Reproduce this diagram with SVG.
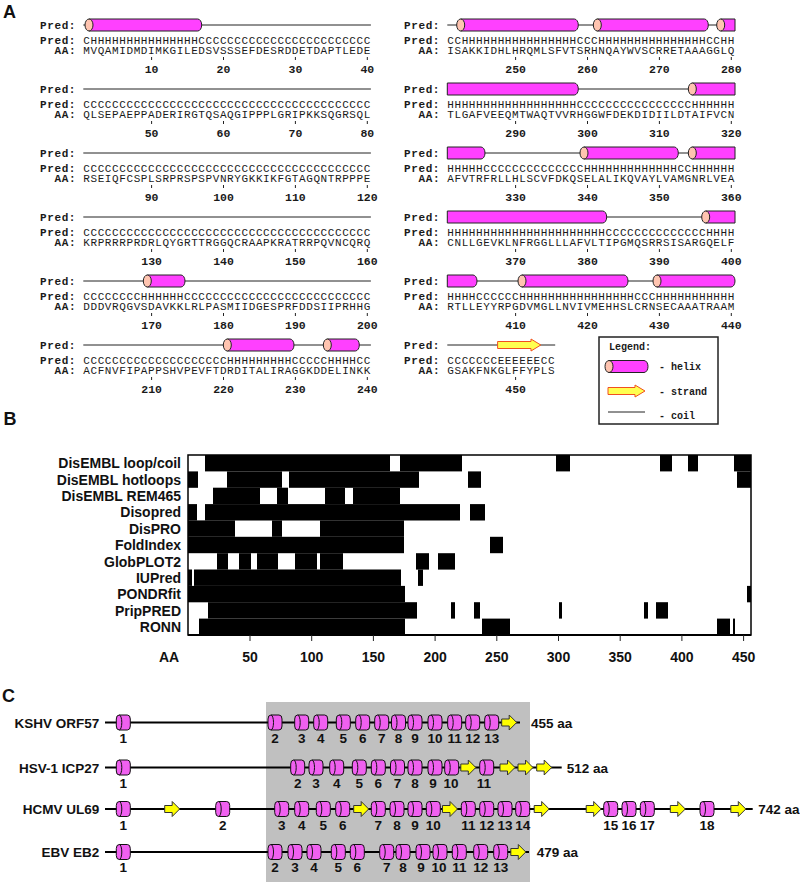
<svg xmlns="http://www.w3.org/2000/svg" width="800" height="883" viewBox="0 0 800 883">
<style>
.m{font-family:"Liberation Mono","DejaVu Sans Mono",monospace;font-size:11px;letter-spacing:0.59px;fill:#1a1a1a}
.b{font-weight:bold}
.n{font-family:"Liberation Mono","DejaVu Sans Mono",monospace;font-size:11.5px;font-weight:bold;fill:#1a1a1a;text-anchor:middle}
.lg{font-family:"Liberation Mono","DejaVu Sans Mono",monospace;font-size:10px;font-weight:bold;fill:#1a1a1a}
.coil{stroke:#222;stroke-width:1;fill:none}
.hb{fill:#ff40ff;stroke:#222;stroke-width:1}
.hc{fill:#ffc4b0;stroke:#222;stroke-width:1}
.st{fill:#ffff50;stroke:#f05020;stroke-width:1}
.tick{stroke:#222;stroke-width:1;fill:none}
.s{font-family:"Liberation Sans",Arial,sans-serif;font-weight:bold;fill:#111}
.pl{font-size:18px}
.bl{font-size:14px;text-anchor:end}
.ax{font-size:14px;text-anchor:middle}
.cl{font-size:13.5px;text-anchor:end}
.cn{font-size:13.5px;text-anchor:middle}
.ca{font-size:13.5px}
.bar{fill:#000}
.ln{stroke:#000;stroke-width:2;fill:none}
.cy{fill:#f060f0;stroke:#111;stroke-width:1}
.ar{fill:#ffff00;stroke:#333;stroke-width:1}
</style>
<defs>
<g id="cyl"><rect x="-7" y="-7.5" width="14" height="15" rx="3" ry="4" class="cy"/><path d="M-4,-7.5 A2.5,7.5 0 0 1 -4,7.5" fill="none" stroke="#111" stroke-width="1"/></g>
<path id="arw" d="M-7.5,-3.5 H0 V-7.5 L7.5,0 L0,7.5 V3.5 H-7.5 Z" class="ar"/>
</defs>

<g id="panelA">
<text x="3" y="18" class="s pl">A</text>
<g id="coils">
<path class="coil" d="M83.3,25H370.9 M83.3,89H370.9 M83.3,153H370.9 M83.3,217H370.9 M83.3,281H370.9 M83.3,345H370.9 M447.3,25H734.9 M447.3,89H734.9 M447.3,153H734.9 M447.3,217H734.9 M447.3,281H734.9 M447.3,345H555.2"/>
<path class="tick" d="M151.6,57v3M223.5,57v3M295.4,57v3M367.3,57v3 M151.6,121v3M223.5,121v3M295.4,121v3M367.3,121v3 M151.6,185v3M223.5,185v3M295.4,185v3M367.3,185v3 M151.6,249v3M223.5,249v3M295.4,249v3M367.3,249v3 M151.6,313v3M223.5,313v3M295.4,313v3M367.3,313v3 M151.6,377v3M223.5,377v3M295.4,377v3M367.3,377v3 M515.6,57v3M587.5,57v3M659.4,57v3M731.3,57v3 M515.6,121v3M587.5,121v3M659.4,121v3M731.3,121v3 M515.6,185v3M587.5,185v3M659.4,185v3M731.3,185v3 M515.6,249v3M587.5,249v3M659.4,249v3M731.3,249v3 M515.6,313v3M587.5,313v3M659.4,313v3M731.3,313v3 M515.6,377v3"/>
</g>
<g id="helices">
<path class="hb" d="M89,19H197.7A4,6 0 0 1 197.7,31H89Z"/><ellipse class="hc" cx="89" cy="25" rx="4" ry="6"/>
<path class="hb" d="M147.3,275H181A4,6 0 0 1 181,287H147.3Z"/><ellipse class="hc" cx="147.3" cy="281" rx="4" ry="6"/>
<path class="hb" d="M227.3,339H290A4,6 0 0 1 290,351H227.3Z"/><ellipse class="hc" cx="227.3" cy="345" rx="4" ry="6"/>
<path class="hb" d="M327.3,339H355.3A4,6 0 0 1 355.3,351H327.3Z"/><ellipse class="hc" cx="327.3" cy="345" rx="4" ry="6"/>
<path class="hb" d="M460.7,19H574.3A4,6 0 0 1 574.3,31H460.7Z"/><ellipse class="hc" cx="460.7" cy="25" rx="4" ry="6"/>
<path class="hb" d="M597.3,19H704.3A4,6 0 0 1 704.3,31H597.3Z"/><ellipse class="hc" cx="597.3" cy="25" rx="4" ry="6"/>
<path class="hb" d="M720.7,19H735V31H720.7Z"/><ellipse class="hc" cx="720.7" cy="25" rx="4" ry="6"/>
<path class="hb" d="M447.3,83H574.3A4,6 0 0 1 574.3,95H447.3Z"/>
<path class="hb" d="M692.3,83H735V95H692.3Z"/><ellipse class="hc" cx="692.3" cy="89" rx="4" ry="6"/>
<path class="hb" d="M447.3,147H481A4,6 0 0 1 481,159H447.3Z"/>
<path class="hb" d="M584,147H674.3A4,6 0 0 1 674.3,159H584Z"/><ellipse class="hc" cx="584" cy="153" rx="4" ry="6"/>
<path class="hb" d="M692.3,147H735V159H692.3Z"/><ellipse class="hc" cx="692.3" cy="153" rx="4" ry="6"/>
<path class="hb" d="M447.3,211H602.7A4,6 0 0 1 602.7,223H447.3Z"/>
<path class="hb" d="M705.7,211H735V223H705.7Z"/><ellipse class="hc" cx="705.7" cy="217" rx="4" ry="6"/>
<path class="hb" d="M447.3,275H473A4,6 0 0 1 473,287H447.3Z"/>
<path class="hb" d="M522,275H624A4,6 0 0 1 624,287H522Z"/><ellipse class="hc" cx="522" cy="281" rx="4" ry="6"/>
<path class="hb" d="M657,275H731A4,6 0 0 1 731,287H657Z"/><ellipse class="hc" cx="657" cy="281" rx="4" ry="6"/>
<path class="st" d="M497.6,341.5H531V339L540.8,345L531,351V348.5H497.6Z"/>
</g>
<g id="seqL">
<text class="m b" x="40.1" y="29">Pred:</text>
<text class="m b" x="40.1" y="43.5">Pred:</text><text class="m" x="83.3" y="43.5">CHHHHHHHHHHHHHHHCCCCCCCCCCCCCCCCCCCCCCCC</text>
<text class="m b" x="54.5" y="54">AA:</text><text class="m" x="83.3" y="54">MVQAMIDMDIMKGILEDSVSSSEFDESRDDETDAPTLEDE</text>
<text class="n" x="151.6" y="73">10</text><text class="n" x="223.5" y="73">20</text><text class="n" x="295.4" y="73">30</text><text class="n" x="367.3" y="73">40</text>

<text class="m b" x="40.1" y="93">Pred:</text>
<text class="m b" x="40.1" y="107.5">Pred:</text><text class="m" x="83.3" y="107.5">CCCCCCCCCCCCCCCCCCCCCCCCCCCCCCCCCCCCCCCC</text>
<text class="m b" x="54.5" y="118">AA:</text><text class="m" x="83.3" y="118">QLSEPAEPPADERIRGTQSAQGIPPPLGRIPKKSQGRSQL</text>
<text class="n" x="151.6" y="137">50</text><text class="n" x="223.5" y="137">60</text><text class="n" x="295.4" y="137">70</text><text class="n" x="367.3" y="137">80</text>

<text class="m b" x="40.1" y="157">Pred:</text>
<text class="m b" x="40.1" y="171.5">Pred:</text><text class="m" x="83.3" y="171.5">CCCCCCCCCCCCCCCCCCCCCCCCCCCCCCCCCCCCCCCC</text>
<text class="m b" x="54.5" y="182">AA:</text><text class="m" x="83.3" y="182">RSEIQFCSPLSRPRSPSPVNRYGKKIKFGTAGQNTRPPPE</text>
<text class="n" x="151.6" y="201">90</text><text class="n" x="223.5" y="201">100</text><text class="n" x="295.4" y="201">110</text><text class="n" x="367.3" y="201">120</text>

<text class="m b" x="40.1" y="221">Pred:</text>
<text class="m b" x="40.1" y="235.5">Pred:</text><text class="m" x="83.3" y="235.5">CCCCCCCCCCCCCCCCCCCCCCCCCCCCCCCCCCCCCCCC</text>
<text class="m b" x="54.5" y="246">AA:</text><text class="m" x="83.3" y="246">KRPRRRPRDRLQYGRTTRGGQCRAAPKRATRRPQVNCQRQ</text>
<text class="n" x="151.6" y="265">130</text><text class="n" x="223.5" y="265">140</text><text class="n" x="295.4" y="265">150</text><text class="n" x="367.3" y="265">160</text>

<text class="m b" x="40.1" y="285">Pred:</text>
<text class="m b" x="40.1" y="299.5">Pred:</text><text class="m" x="83.3" y="299.5">CCCCCCCCHHHHHHCCCCCCCCCCCCCCCCCCCCCCCCCC</text>
<text class="m b" x="54.5" y="310">AA:</text><text class="m" x="83.3" y="310">DDDVRQGVSDAVKKLRLPASMIIDGESPRFDDSIIPRHHG</text>
<text class="n" x="151.6" y="329">170</text><text class="n" x="223.5" y="329">180</text><text class="n" x="295.4" y="329">190</text><text class="n" x="367.3" y="329">200</text>

<text class="m b" x="40.1" y="349">Pred:</text>
<text class="m b" x="40.1" y="363.5">Pred:</text><text class="m" x="83.3" y="363.5">CCCCCCCCCCCCCCCCCCCCHHHHHHHHHCCCCCHHHHCC</text>
<text class="m b" x="54.5" y="374">AA:</text><text class="m" x="83.3" y="374">ACFNVFIPAPPSHVPEVFTDRDITALIRAGGKDDELINKK</text>
<text class="n" x="151.6" y="393">210</text><text class="n" x="223.5" y="393">220</text><text class="n" x="295.4" y="393">230</text><text class="n" x="367.3" y="393">240</text>
</g>
<g id="seqR">
<text class="m b" x="404.1" y="29">Pred:</text>
<text class="m b" x="404.1" y="43.5">Pred:</text><text class="m" x="447.3" y="43.5">CCHHHHHHHHHHHHHHHHCCCHHHHHHHHHHHHHHHCCHH</text>
<text class="m b" x="418.5" y="54">AA:</text><text class="m" x="447.3" y="54">ISAKKIDHLHRQMLSFVTSRHNQAYWVSCRRETAAAGGLQ</text>
<text class="n" x="515.6" y="73">250</text><text class="n" x="587.5" y="73">260</text><text class="n" x="659.4" y="73">270</text><text class="n" x="731.3" y="73">280</text>

<text class="m b" x="404.1" y="93">Pred:</text>
<text class="m b" x="404.1" y="107.5">Pred:</text><text class="m" x="447.3" y="107.5">HHHHHHHHHHHHHHHHHHCCCCCCCCCCCCCCCCHHHHHH</text>
<text class="m b" x="418.5" y="118">AA:</text><text class="m" x="447.3" y="118">TLGAFVEEQMTWAQTVVRHGGWFDEKDIDIILDTAIFVCN</text>
<text class="n" x="515.6" y="137">290</text><text class="n" x="587.5" y="137">300</text><text class="n" x="659.4" y="137">310</text><text class="n" x="731.3" y="137">320</text>

<text class="m b" x="404.1" y="157">Pred:</text>
<text class="m b" x="404.1" y="171.5">Pred:</text><text class="m" x="447.3" y="171.5">HHHHHCCCCCCCCCCCCCCHHHHHHHHHHHHHCCHHHHHH</text>
<text class="m b" x="418.5" y="182">AA:</text><text class="m" x="447.3" y="182">AFVTRFRLLHLSCVFDKQSELALIKQVAYLVAMGNRLVEA</text>
<text class="n" x="515.6" y="201">330</text><text class="n" x="587.5" y="201">340</text><text class="n" x="659.4" y="201">350</text><text class="n" x="731.3" y="201">360</text>

<text class="m b" x="404.1" y="221">Pred:</text>
<text class="m b" x="404.1" y="235.5">Pred:</text><text class="m" x="447.3" y="235.5">HHHHHHHHHHHHHHHHHHHHHHCCCCCCCCCCCCCCHHHH</text>
<text class="m b" x="418.5" y="246">AA:</text><text class="m" x="447.3" y="246">CNLLGEVKLNFRGGLLLAFVLTIPGMQSRRSISARGQELF</text>
<text class="n" x="515.6" y="265">370</text><text class="n" x="587.5" y="265">380</text><text class="n" x="659.4" y="265">390</text><text class="n" x="731.3" y="265">400</text>

<text class="m b" x="404.1" y="285">Pred:</text>
<text class="m b" x="404.1" y="299.5">Pred:</text><text class="m" x="447.3" y="299.5">HHHHCCCCCCHHHHHHHHHHHHHHHHCCCHHHHHHHHHHH</text>
<text class="m b" x="418.5" y="310">AA:</text><text class="m" x="447.3" y="310">RTLLEYYRPGDVMGLLNVIVMEHHSLCRNSECAAATRAAM</text>
<text class="n" x="515.6" y="329">410</text><text class="n" x="587.5" y="329">420</text><text class="n" x="659.4" y="329">430</text><text class="n" x="731.3" y="329">440</text>

<text class="m b" x="404.1" y="349">Pred:</text>
<text class="m b" x="404.1" y="363.5">Pred:</text><text class="m" x="447.3" y="363.5">CCCCCCCEEEEEECC</text>
<text class="m b" x="418.5" y="374">AA:</text><text class="m" x="447.3" y="374">GSAKFNKGLFFYPLS</text>
<text class="n" x="515.6" y="393">450</text>
</g>
<g id="legend">
<rect x="599" y="337" width="119" height="87" fill="#fff" stroke="#222" stroke-width="1.5"/>
<text class="lg" x="609" y="349.5">Legend:</text>
<path class="hb" d="M609,360.5H644A4,6 0 0 1 644,372.5H609Z"/><ellipse class="hc" cx="609" cy="366.5" rx="4" ry="6"/>
<text class="lg" x="659" y="370">- helix</text>
<path class="st" d="M608,387.5H635V385L645,391L635,397V394.5H608Z"/>
<text class="lg" x="659" y="394.5">- strand</text>
<path class="coil" d="M608,412H645"/>
<text class="lg" x="659" y="419">- coil</text>
</g>
</g>

<g id="panelB">
<text x="3.5" y="425" class="s pl">B</text>
<g id="labelsB">
<text class="s bl" x="181" y="468">DisEMBL loop/coil</text>
<text class="s bl" x="181" y="484.5">DisEMBL hotloops</text>
<text class="s bl" x="181" y="501">DisEMBL REM465</text>
<text class="s bl" x="181" y="517">Disopred</text>
<text class="s bl" x="181" y="533.5">DisPRO</text>
<text class="s bl" x="181" y="550">FoldIndex</text>
<text class="s bl" x="181" y="566.5">GlobPLOT2</text>
<text class="s bl" x="181" y="582.5">IUPred</text>
<text class="s bl" x="181" y="599">PONDRfit</text>
<text class="s bl" x="181" y="615.5">PripPRED</text>
<text class="s bl" x="181" y="632">RONN</text>
</g>
<g id="bars" class="bar">
<rect x="205" y="455" width="185" height="16.4"/><rect x="400" y="455" width="62" height="16.4"/><rect x="556" y="455" width="14" height="16.4"/><rect x="660" y="455" width="12" height="16.4"/><rect x="688" y="455" width="10" height="16.4"/><rect x="734" y="455" width="17" height="16.4"/>
<rect x="188" y="471.4" width="10" height="16.4"/><rect x="227" y="471.4" width="55" height="16.4"/><rect x="289" y="471.4" width="130" height="16.4"/><rect x="468" y="471.4" width="13" height="16.4"/><rect x="737" y="471.4" width="14" height="16.4"/>
<rect x="213" y="487.7" width="47" height="16.4"/><rect x="277" y="487.7" width="11" height="16.4"/><rect x="325" y="487.7" width="20" height="16.4"/><rect x="353" y="487.7" width="47" height="16.4"/>
<rect x="188" y="504.1" width="9" height="16.4"/><rect x="205" y="504.1" width="255" height="16.4"/><rect x="470" y="504.1" width="15" height="16.4"/>
<rect x="188" y="520.4" width="47" height="16.4"/><rect x="272" y="520.4" width="10" height="16.4"/><rect x="320" y="520.4" width="84" height="16.4"/>
<rect x="188" y="536.8" width="216" height="16.4"/><rect x="490" y="536.8" width="13" height="16.4"/>
<rect x="217" y="553.2" width="11" height="16.4"/><rect x="239" y="553.2" width="12" height="16.4"/><rect x="257" y="553.2" width="21" height="16.4"/><rect x="295" y="553.2" width="22" height="16.4"/><rect x="320" y="553.2" width="23" height="16.4"/><rect x="416" y="553.2" width="13" height="16.4"/><rect x="438" y="553.2" width="17" height="16.4"/>
<rect x="188" y="569.5" width="4" height="16.4"/><rect x="194" y="569.5" width="207" height="16.4"/><rect x="418" y="569.5" width="5" height="16.4"/>
<rect x="188" y="585.9" width="217" height="16.4"/><rect x="747" y="585.9" width="4" height="16.4"/>
<rect x="208" y="602.2" width="209" height="16.4"/><rect x="451" y="602.2" width="4" height="16.4"/><rect x="474" y="602.2" width="6" height="16.4"/><rect x="559" y="602.2" width="3" height="16.4"/><rect x="644" y="602.2" width="4" height="16.4"/><rect x="656" y="602.2" width="12" height="16.4"/>
<rect x="199" y="618.6" width="206" height="16.4"/><rect x="482" y="618.6" width="28" height="16.4"/><rect x="717" y="618.6" width="13" height="16.4"/><rect x="733" y="618.6" width="2" height="16.4"/>
</g>
<g id="axisB">
<rect x="188" y="455" width="563" height="180" fill="none" stroke="#000" stroke-width="1.5"/>
<path d="M188,635H751" stroke="#000" stroke-width="2"/>
<path class="tick" stroke-width="1.5" d="M250,635v6M311.7,635v6M373.4,635v6M435.1,635v6M496.8,635v6M558.5,635v6M620.2,635v6M681.9,635v6M743.6,635v6"/>
<text class="s ax" x="169" y="662">AA</text>
<text class="s ax" x="250" y="662">50</text><text class="s ax" x="311.7" y="662">100</text><text class="s ax" x="373.4" y="662">150</text><text class="s ax" x="435.1" y="662">200</text><text class="s ax" x="496.8" y="662">250</text><text class="s ax" x="558.5" y="662">300</text><text class="s ax" x="620.2" y="662">350</text><text class="s ax" x="681.9" y="662">400</text><text class="s ax" x="743.6" y="662">450</text>
</g>
</g>

<g id="panelC">
<text x="2" y="702" class="s pl">C</text>
<rect id="conservedRegion" x="266" y="702" width="264" height="180" fill="#c0c0c0"/>
<g id="connectors">
<path class="ln" d="M105,722.5H520 M105,767.5H561.7 M105,809H752.7 M105,852H529"/>
</g>
<g id="KSHV">
<text class="s cl" x="99.3" y="727.5">KSHV ORF57</text>
<use href="#cyl" x="123.3" y="722.5"/><use href="#cyl" x="275" y="722.5"/><use href="#cyl" x="301.7" y="722.5"/><use href="#cyl" x="320.7" y="722.5"/><use href="#cyl" x="343.3" y="722.5"/><use href="#cyl" x="362.7" y="722.5"/><use href="#cyl" x="381.7" y="722.5"/><use href="#cyl" x="398.5" y="722.5"/><use href="#cyl" x="415" y="722.5"/><use href="#cyl" x="435" y="722.5"/><use href="#cyl" x="454.7" y="722.5"/><use href="#cyl" x="472.7" y="722.5"/><use href="#cyl" x="491.7" y="722.5"/>
<use href="#arw" x="509.2" y="722.5"/>
<text class="s cn" x="123.3" y="743">1</text><text class="s cn" x="275" y="743">2</text><text class="s cn" x="301.7" y="743">3</text><text class="s cn" x="320.7" y="743">4</text><text class="s cn" x="343.3" y="743">5</text><text class="s cn" x="362.7" y="743">6</text><text class="s cn" x="381.7" y="743">7</text><text class="s cn" x="398.5" y="743">8</text><text class="s cn" x="415" y="743">9</text><text class="s cn" x="435" y="743">10</text><text class="s cn" x="454.7" y="743">11</text><text class="s cn" x="472.7" y="743">12</text><text class="s cn" x="491.7" y="743">13</text>
<text class="s ca" x="531" y="727.5">455 aa</text>
</g>
<g id="HSV1">
<text class="s cl" x="99.3" y="772.5">HSV-1 ICP27</text>
<use href="#cyl" x="123.3" y="767.5"/><use href="#cyl" x="297.7" y="767.5"/><use href="#cyl" x="316" y="767.5"/><use href="#cyl" x="336.7" y="767.5"/><use href="#cyl" x="359.3" y="767.5"/><use href="#cyl" x="378.3" y="767.5"/><use href="#cyl" x="397.5" y="767.5"/><use href="#cyl" x="415" y="767.5"/><use href="#cyl" x="435" y="767.5"/><use href="#cyl" x="451.7" y="767.5"/><use href="#cyl" x="486.7" y="767.5"/>
<use href="#arw" x="468.3" y="767.5"/><use href="#arw" x="507.5" y="767.5"/><use href="#arw" x="525.5" y="767.5"/><use href="#arw" x="544.2" y="767.5"/>
<text class="s cn" x="123.3" y="788">1</text><text class="s cn" x="297.7" y="788">2</text><text class="s cn" x="316" y="788">3</text><text class="s cn" x="336.7" y="788">4</text><text class="s cn" x="359.3" y="788">5</text><text class="s cn" x="378.3" y="788">6</text><text class="s cn" x="397.5" y="788">7</text><text class="s cn" x="415" y="788">8</text><text class="s cn" x="433" y="788">9</text><text class="s cn" x="451" y="788">10</text><text class="s cn" x="484" y="788">11</text>
<text class="s ca" x="566.7" y="772.5">512 aa</text>
</g>
<g id="HCMV">
<text class="s cl" x="99.3" y="814">HCMV UL69</text>
<use href="#cyl" x="123.3" y="809"/><use href="#cyl" x="222.7" y="809"/><use href="#cyl" x="281.7" y="809"/><use href="#cyl" x="301.7" y="809"/><use href="#cyl" x="323.3" y="809"/><use href="#cyl" x="342.7" y="809"/><use href="#cyl" x="378.3" y="809"/><use href="#cyl" x="397" y="809"/><use href="#cyl" x="415" y="809"/><use href="#cyl" x="433.3" y="809"/><use href="#cyl" x="468.3" y="809"/><use href="#cyl" x="486.7" y="809"/><use href="#cyl" x="505" y="809"/><use href="#cyl" x="522.7" y="809"/><use href="#cyl" x="610.7" y="809"/><use href="#cyl" x="629" y="809"/><use href="#cyl" x="647.3" y="809"/><use href="#cyl" x="707" y="809"/>
<use href="#arw" x="172.2" y="809"/><use href="#arw" x="361.2" y="809"/><use href="#arw" x="450" y="809"/><use href="#arw" x="541.7" y="809"/><use href="#arw" x="593.7" y="809"/><use href="#arw" x="677.8" y="809"/><use href="#arw" x="738.3" y="809"/>
<text class="s cn" x="123.3" y="829.5">1</text><text class="s cn" x="222.7" y="829.5">2</text><text class="s cn" x="281.7" y="829.5">3</text><text class="s cn" x="301.7" y="829.5">4</text><text class="s cn" x="323.3" y="829.5">5</text><text class="s cn" x="342.7" y="829.5">6</text><text class="s cn" x="378.3" y="829.5">7</text><text class="s cn" x="397" y="829.5">8</text><text class="s cn" x="415" y="829.5">9</text><text class="s cn" x="433.3" y="829.5">10</text><text class="s cn" x="468.3" y="829.5">11</text><text class="s cn" x="486.7" y="829.5">12</text><text class="s cn" x="505" y="829.5">13</text><text class="s cn" x="522.7" y="829.5">14</text><text class="s cn" x="610.7" y="829.5">15</text><text class="s cn" x="629" y="829.5">16</text><text class="s cn" x="647.3" y="829.5">17</text><text class="s cn" x="707" y="829.5">18</text>
<text class="s ca" x="758.3" y="814">742 aa</text>
</g>
<g id="EBV">
<text class="s cl" x="99.3" y="857">EBV EB2</text>
<use href="#cyl" x="123.3" y="852"/><use href="#cyl" x="275" y="852"/><use href="#cyl" x="295" y="852"/><use href="#cyl" x="314" y="852"/><use href="#cyl" x="338.3" y="852"/><use href="#cyl" x="357.3" y="852"/><use href="#cyl" x="386.7" y="852"/><use href="#cyl" x="403" y="852"/><use href="#cyl" x="423" y="852"/><use href="#cyl" x="440" y="852"/><use href="#cyl" x="459.3" y="852"/><use href="#cyl" x="480.7" y="852"/><use href="#cyl" x="500.7" y="852"/>
<use href="#arw" x="518.3" y="852"/>
<text class="s cn" x="123.3" y="872">1</text><text class="s cn" x="275" y="872">2</text><text class="s cn" x="295" y="872">3</text><text class="s cn" x="314" y="872">4</text><text class="s cn" x="338.3" y="872">5</text><text class="s cn" x="357.3" y="872">6</text><text class="s cn" x="386.7" y="872">7</text><text class="s cn" x="403" y="872">8</text><text class="s cn" x="421" y="872">9</text><text class="s cn" x="439" y="872">10</text><text class="s cn" x="459.3" y="872">11</text><text class="s cn" x="480.7" y="872">12</text><text class="s cn" x="500.7" y="872">13</text>
<text class="s ca" x="536.7" y="857">479 aa</text>
</g>
</g>
</svg>
